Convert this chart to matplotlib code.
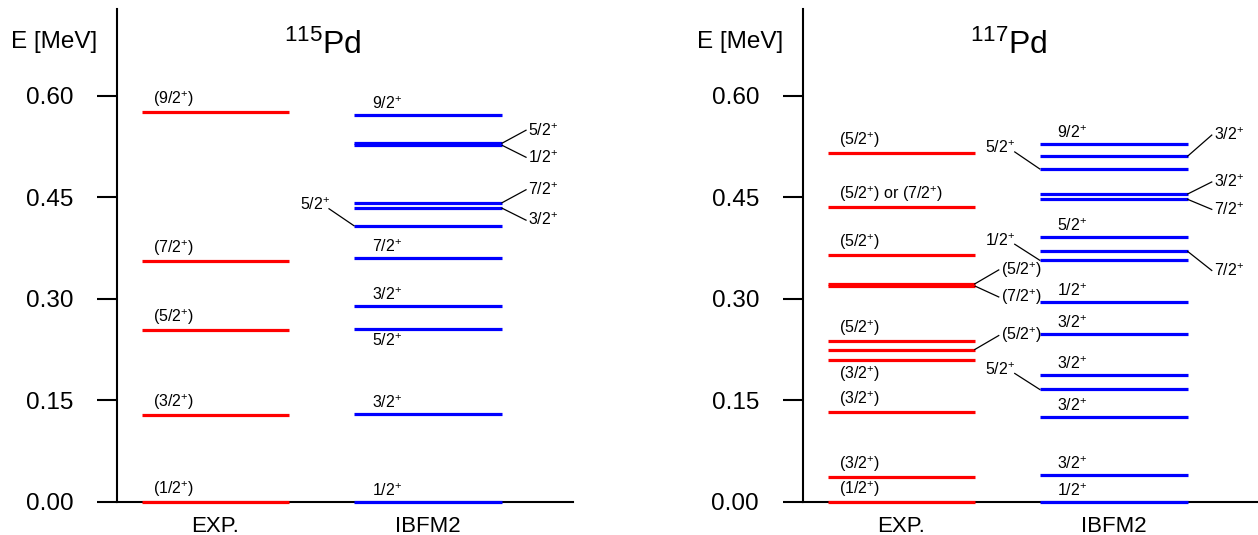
import matplotlib
matplotlib.use('Agg')
from matplotlib import pyplot as plt

plt.rcParams['font.family'] = ['Liberation Sans', 'DejaVu Sans']
plt.rcParams['mathtext.fontset'] = 'custom'
plt.rcParams['mathtext.rm'] = 'Liberation Sans'
plt.rcParams['mathtext.it'] = 'Liberation Sans:italic'
plt.rcParams['mathtext.bf'] = 'Liberation Sans:bold'

# ---- 115Pd ----
exp115_E = [0.0, 0.128, 0.254, 0.356, 0.576]
exp115_J = ['(1/2+)', '(3/2+)', '(5/2+)', '(7/2+)', '(9/2+)']
th115_E = [0.0, 0.129, 0.256, 0.290, 0.361, 0.408, 0.434, 0.442, 0.527, 0.530, 0.572]
th115_J = ['1/2+', '3/2+', '5/2+', '3/2+', '7/2+', '5/2+', '3/2+', '7/2+', '1/2+', '5/2+', '9/2+']

# ---- 117Pd ----
exp117_E = [0.0, 0.036, 0.133, 0.209, 0.225, 0.238, 0.319, 0.322, 0.365, 0.435, 0.516]
exp117_J = ['(1/2+)', '(3/2+)', '(3/2+)', '(3/2+)', '(5/2+)', '(5/2+)', '(7/2+)', '(5/2+)',
            '(5/2+)', '(5/2+) or (7/2+)', '(5/2+)']
th117_E = [0.0, 0.039, 0.125, 0.166, 0.187, 0.248, 0.296, 0.357, 0.370, 0.391, 0.447, 0.455,
           0.492, 0.511, 0.529]
th117_J = ['1/2+', '3/2+', '3/2+', '5/2+', '3/2+', '3/2+', '1/2+', '1/2+', '7/2+', '5/2+', '7/2+',
           '3/2+', '5/2+', '3/2+', '9/2+']

# label placement: 'a' above, 'b' below, ('l', dy px) / ('r', dy px) with connector line
exp115_pos = ['a', 'a', 'a', 'a', 'a']
th115_pos = ['a', 'a', 'b', 'a', 'a', ('l', 21), ('r', -12), ('r', 13), ('r', -12), ('r', 13), 'a']
exp117_pos = ['a', 'a', 'a', 'b', ('r', 14), 'a', ('r', -11), ('r', 14), 'a', 'a', 'a']
th117_pos = ['a', 'a', 'a', ('l', 20), 'a', 'a', 'a', ('l', 20), ('r', -19), 'a', ('r', -10),
             ('r', 12), ('l', 21), ('r', 21), 'a']

columns = ['EXP.', 'IBFM2']
yticks = [0.0, 0.15, 0.30, 0.45, 0.60]

X_EXP = (25, 172)
X_TH = (237, 385)
YMAX = 0.728

fig = plt.figure(figsize=(12.58, 5.35), dpi=100)
ax1 = fig.add_axes([0.0930, 0.0622, 0.3625, 0.9204])
ax2 = fig.add_axes([0.6381, 0.0622, 0.3625, 0.9204])

px = 492.4 / YMAX   # pixels per MeV


def fmt(j):
    return j.replace('+', r'$^{+}$')


def draw_levels(ax, E, J, pos, xr, color, txt_dx):
    for e, j, p in zip(E, J, pos):
        ax.plot(xr, [e, e], color=color, lw=2.3, solid_capstyle='butt')
        lab = fmt(j)
        if p == 'a':
            ax.text(xr[0] + txt_dx, e + 3 / px, lab, ha='left', va='bottom', fontsize=11.5)
        elif p == 'b':
            ax.text(xr[0] + txt_dx, e - 4 / px, lab, ha='left', va='top', fontsize=11.5)
        elif p[0] == 'r':
            ey = e + p[1] / px
            ax.plot([xr[1], xr[1] + 24], [e, ey], color='k', lw=0.9)
            ax.text(xr[1] + 26, ey, lab, ha='left', va='center', fontsize=11.5)
        else:
            ey = e + p[1] / px
            ax.plot([xr[0], xr[0] - 25], [e, ey - 4 / px], color='k', lw=0.9)
            ax.text(xr[0] - 24, ey, lab, ha='right', va='center', fontsize=11.5)


def setup(ax, title):
    ax.set_xlim(0, 456)
    ax.set_ylim(0, YMAX)
    for s in ['top', 'right']:
        ax.spines[s].set_visible(False)
    ax.spines['left'].set_linewidth(1.5)
    ax.spines['bottom'].set_linewidth(1.5)
    ax.spines['bottom'].set_zorder(0)
    ax.set_yticks(yticks)
    ax.set_yticklabels(['%.2f' % t for t in yticks])
    ax.tick_params(axis='y', direction='out', length=14.4, width=1.5, pad=17, labelsize=17.5)
    ax.set_xticks([sum(X_EXP) / 2, sum(X_TH) / 2])
    ax.set_xticklabels(columns)
    ax.tick_params(axis='x', length=0, pad=10, labelsize=16)
    ax.text(-106, 0.680, 'E [MeV]', ha='left', va='center', fontsize=17.5)
    ax.text(206, 0.675, title, ha='center', va='center', fontsize=23)


draw_levels(ax1, exp115_E, exp115_J, exp115_pos, X_EXP, '#ff0000', 11)
draw_levels(ax1, th115_E, th115_J, th115_pos, X_TH, '#0000ff', 18)
setup(ax1, r'$^{115}$Pd')

draw_levels(ax2, exp117_E, exp117_J, exp117_pos, X_EXP, '#ff0000', 11)
draw_levels(ax2, th117_E, th117_J, th117_pos, X_TH, '#0000ff', 17)
setup(ax2, r'$^{117}$Pd')

for ax in (ax1, ax2):
    for l in ax.lines:
        l.set_clip_on(False)

plt.savefig('out.png', dpi=100)
